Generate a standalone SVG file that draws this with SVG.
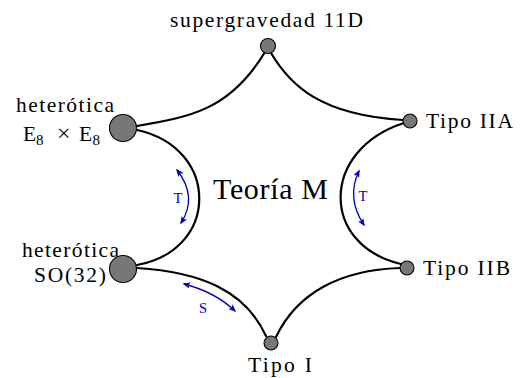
<svg xmlns="http://www.w3.org/2000/svg" width="527" height="378" viewBox="0 0 527 378">
<style>
.lbl{font-family:"Liberation Serif","Times New Roman",serif;font-size:21.5px;fill:#000}
.sub{font-family:"Liberation Serif","Times New Roman",serif;font-size:15px;fill:#000}
.edge{fill:none;stroke:#000;stroke-width:2.2;stroke-linecap:round}
.dual{fill:none;stroke:#0000b4;stroke-width:1.3}
.dl{font-family:"Liberation Serif","Times New Roman",serif;font-size:14.5px;fill:#0000b4}
.node{fill:#777;stroke:#000;stroke-width:1.1}
</style>
<defs>
<marker id="ah" viewBox="0 0 10 8" refX="8" refY="4" markerWidth="8" markerHeight="6.4" markerUnits="userSpaceOnUse" orient="auto-start-reverse">
<path d="M0,0 L10,4 L0,8 L2.5,4 z" fill="#0000b4"/>
</marker>
</defs>
<g id="connectors">
<path class="edge" d="M137,126 C190,117 230,110 265,52"/>
<path class="edge" d="M271,53 C290,85 320,115 403,120"/>
<path class="edge" d="M404,123 C320,150 320,245 401,264"/>
<path class="edge" d="M276,337 C297,293 340,270 400,268"/>
<path class="edge" d="M137,268 C200,272 245,290 266,336"/>
<path class="edge" d="M137,130 C220,148 220,250 137,265"/>
<path class="dual" d="M177,170 Q198,197 181,223" marker-start="url(#ah)" marker-end="url(#ah)"/>
<path class="dual" d="M359,171 Q346,198 364,225" marker-start="url(#ah)" marker-end="url(#ah)"/>
<path class="dual" d="M184,284 Q215,292 235,311" marker-start="url(#ah)" marker-end="url(#ah)"/>
<text class="dl" x="178" y="203" text-anchor="middle">T</text>
<text class="dl" x="363" y="201" text-anchor="middle">T</text>
<text class="dl" x="203" y="313" text-anchor="middle">S</text>
</g>
<g id="center">
<text class="lbl" x="213" y="199" style="font-size:30px" textLength="115" lengthAdjust="spacing">Teoría M</text>
</g>
<g id="sugra">
<circle class="node" cx="268" cy="46" r="7.5"/>
<text class="lbl" x="170" y="27" textLength="193" lengthAdjust="spacing">supergravedad 11D</text>
</g>
<g id="iia">
<circle class="node" cx="410" cy="121" r="7"/>
<text class="lbl" x="426" y="128" textLength="87" lengthAdjust="spacing">Tipo IIA</text>
</g>
<g id="iib">
<circle class="node" cx="407" cy="268" r="7"/>
<text class="lbl" x="423" y="275" textLength="87" lengthAdjust="spacing">Tipo IIB</text>
</g>
<g id="tipoi">
<circle class="node" cx="271" cy="343" r="7"/>
<text class="lbl" x="248" y="372" textLength="64" lengthAdjust="spacing">Tipo I</text>
</g>
<g id="e8">
<circle class="node" cx="123" cy="128" r="13.5"/>
<text class="lbl" x="16" y="112" textLength="98" lengthAdjust="spacing">heterótica</text>
<text class="lbl" x="23" y="141">E</text>
<text class="sub" x="36" y="145">8</text>
<text class="lbl" x="57" y="141" style="font-size:24px">×</text>
<text class="lbl" x="79" y="141">E</text>
<text class="sub" x="92.5" y="145">8</text>
</g>
<g id="so32">
<circle class="node" cx="123" cy="269" r="13.5"/>
<text class="lbl" x="22" y="257" textLength="97" lengthAdjust="spacing">heterótica</text>
<text class="lbl" x="34" y="282" textLength="72" lengthAdjust="spacing">SO(32)</text>
</g>
</svg>
